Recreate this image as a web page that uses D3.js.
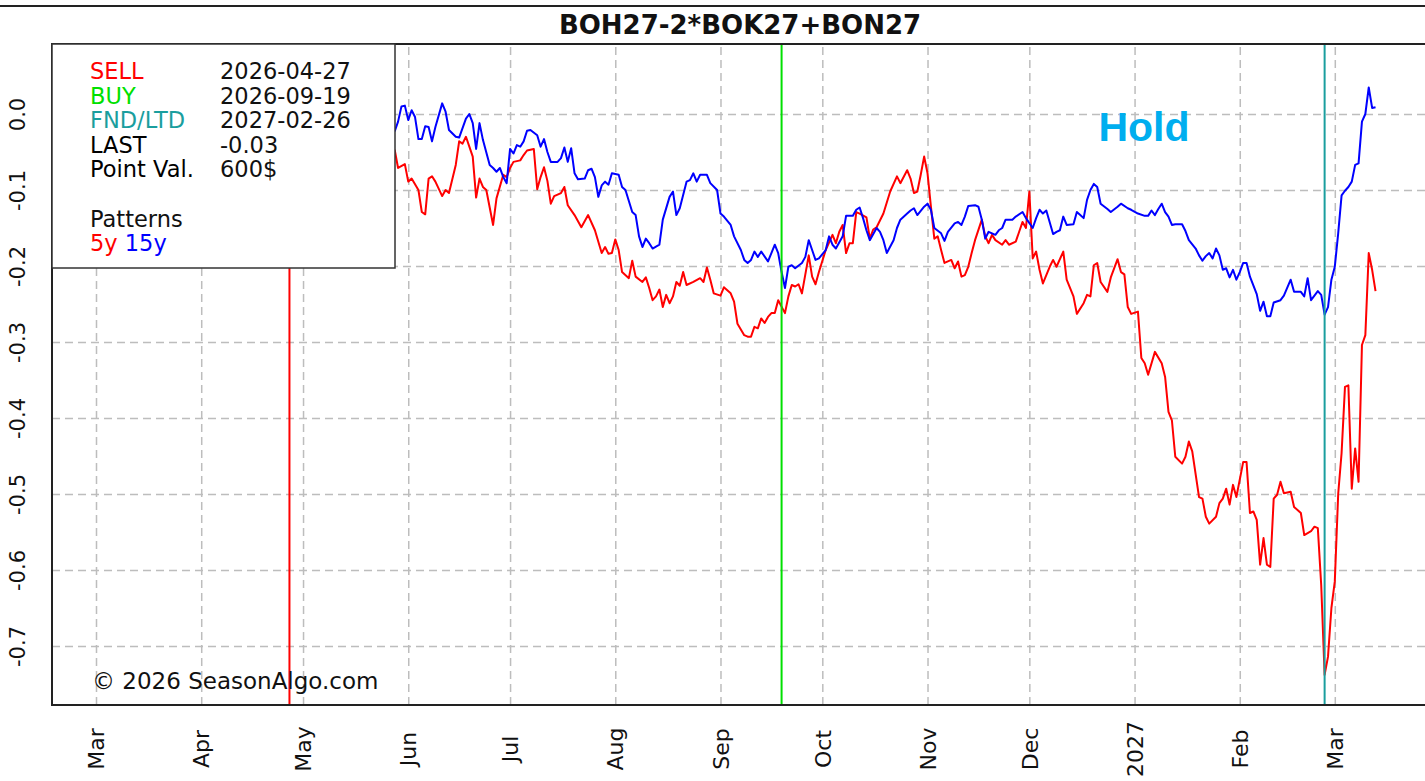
<!DOCTYPE html>
<html>
<head>
<meta charset="utf-8">
<script src="https://cdn.jsdelivr.net/npm/d3@7"></script>
<style>
  body { margin: 0; background: #fff; overflow: hidden; }
  svg { display: block; font-family: "DejaVu Sans", sans-serif; }
</style>
</head>
<body>
<svg id="chart" width="1425" height="781"></svg>
<script>
// ========== Data ==========

const chartTitle = "BOH27-2*BOK27+BON27";

const sellDate = "2026-04-27";
const buyDate = "2026-09-19";
const fndDate = "2027-02-26";

const monthTicks = ["2026-03-01", "2026-04-01", "2026-05-01", "2026-06-01", "2026-07-01", "2026-08-01",
    "2026-09-01", "2026-10-01", "2026-11-01", "2026-12-01", "2027-01-01", "2027-02-01", "2027-03-01"];
const monthLabels = ["Mar", "Apr", "May", "Jun", "Jul", "Aug", "Sep", "Oct", "Nov", "Dec", "2027", "Feb", "Mar"];

const yTicks = [0, -0.1, -0.2, -0.3, -0.4, -0.5, -0.6, -0.7];

const legendRows = [
    ["SELL", "2026-04-27", "#ff0000"],
    ["BUY", "2026-09-19", "#00e000"],
    ["FND/LTD", "2027-02-26", "#1a9e9e"],
    ["LAST", "-0.03", "#000"],
    ["Point Val.", "600$", "#000"]
];

// 15 year pattern (blue)
const pattern15y = [
    ["2026-05-28", -0.023], ["2026-05-29", -0.010], ["2026-05-30", 0.010], ["2026-05-31", 0.011],
    ["2026-06-01", -0.008], ["2026-06-02", 0.005], ["2026-06-03", -0.004], ["2026-06-04", -0.033],
    ["2026-06-05", -0.033], ["2026-06-06", -0.016], ["2026-06-07", -0.017], ["2026-06-08", -0.036],
    ["2026-06-09", -0.017], ["2026-06-11", 0.014], ["2026-06-12", 0.003], ["2026-06-13", -0.021],
    ["2026-06-15", -0.030], ["2026-06-16", -0.031], ["2026-06-18", -0.006], ["2026-06-19", 0.000],
    ["2026-06-20", -0.012], ["2026-06-21", -0.046], ["2026-06-22", -0.012], ["2026-06-23", -0.034],
    ["2026-06-25", -0.067], ["2026-06-26", -0.071], ["2026-06-27", -0.076], ["2026-06-28", -0.071],
    ["2026-06-29", -0.083], ["2026-06-30", -0.091], ["2026-07-01", -0.046], ["2026-07-02", -0.052],
    ["2026-07-03", -0.041], ["2026-07-04", -0.043], ["2026-07-05", -0.036], ["2026-07-06", -0.022],
    ["2026-07-07", -0.021], ["2026-07-09", -0.028], ["2026-07-10", -0.043], ["2026-07-11", -0.033],
    ["2026-07-12", -0.050], ["2026-07-13", -0.063], ["2026-07-15", -0.063], ["2026-07-16", -0.058],
    ["2026-07-17", -0.044], ["2026-07-18", -0.063], ["2026-07-19", -0.045], ["2026-07-20", -0.078],
    ["2026-07-21", -0.086], ["2026-07-23", -0.085], ["2026-07-24", -0.074], ["2026-07-25", -0.072],
    ["2026-07-26", -0.083], ["2026-07-27", -0.109], ["2026-07-28", -0.094], ["2026-07-29", -0.089],
    ["2026-07-30", -0.093], ["2026-07-31", -0.078], ["2026-08-02", -0.080], ["2026-08-03", -0.096],
    ["2026-08-04", -0.100], ["2026-08-06", -0.129], ["2026-08-07", -0.133], ["2026-08-08", -0.161],
    ["2026-08-09", -0.175], ["2026-08-10", -0.164], ["2026-08-11", -0.170], ["2026-08-12", -0.177],
    ["2026-08-14", -0.172], ["2026-08-15", -0.139], ["2026-08-17", -0.109], ["2026-08-18", -0.102],
    ["2026-08-19", -0.133], ["2026-08-20", -0.124], ["2026-08-22", -0.089], ["2026-08-23", -0.087],
    ["2026-08-24", -0.078], ["2026-08-25", -0.089], ["2026-08-26", -0.080], ["2026-08-28", -0.080],
    ["2026-08-29", -0.091], ["2026-08-31", -0.100], ["2026-09-01", -0.131], ["2026-09-02", -0.135],
    ["2026-09-04", -0.146], ["2026-09-05", -0.161], ["2026-09-07", -0.179], ["2026-09-08", -0.192],
    ["2026-09-09", -0.196], ["2026-09-10", -0.192], ["2026-09-11", -0.181], ["2026-09-12", -0.188],
    ["2026-09-13", -0.181], ["2026-09-15", -0.194], ["2026-09-16", -0.183], ["2026-09-17", -0.172],
    ["2026-09-18", -0.183], ["2026-09-19", -0.208], ["2026-09-20", -0.229], ["2026-09-21", -0.201],
    ["2026-09-22", -0.199], ["2026-09-23", -0.203], ["2026-09-25", -0.196], ["2026-09-26", -0.188],
    ["2026-09-27", -0.166], ["2026-09-28", -0.179], ["2026-09-29", -0.192], ["2026-09-30", -0.190],
    ["2026-10-02", -0.179], ["2026-10-03", -0.161], ["2026-10-04", -0.172], ["2026-10-05", -0.177],
    ["2026-10-07", -0.161], ["2026-10-08", -0.134], ["2026-10-10", -0.134], ["2026-10-11", -0.126],
    ["2026-10-12", -0.123], ["2026-10-13", -0.137], ["2026-10-14", -0.153], ["2026-10-15", -0.166],
    ["2026-10-17", -0.150], ["2026-10-18", -0.155], ["2026-10-19", -0.166], ["2026-10-20", -0.183],
    ["2026-10-22", -0.166], ["2026-10-23", -0.150], ["2026-10-24", -0.139], ["2026-10-26", -0.131],
    ["2026-10-27", -0.127], ["2026-10-28", -0.124], ["2026-10-29", -0.133], ["2026-10-31", -0.122],
    ["2026-11-01", -0.118], ["2026-11-02", -0.126], ["2026-11-03", -0.150], ["2026-11-05", -0.157],
    ["2026-11-06", -0.167], ["2026-11-07", -0.155], ["2026-11-09", -0.144], ["2026-11-10", -0.142],
    ["2026-11-11", -0.146], ["2026-11-12", -0.135], ["2026-11-13", -0.121], ["2026-11-15", -0.120],
    ["2026-11-16", -0.122], ["2026-11-17", -0.139], ["2026-11-18", -0.164], ["2026-11-19", -0.155],
    ["2026-11-21", -0.159], ["2026-11-22", -0.153], ["2026-11-23", -0.150], ["2026-11-24", -0.139],
    ["2026-11-26", -0.139], ["2026-11-27", -0.135], ["2026-11-29", -0.129], ["2026-11-30", -0.137],
    ["2026-12-02", -0.150], ["2026-12-03", -0.137], ["2026-12-04", -0.126], ["2026-12-05", -0.131],
    ["2026-12-06", -0.127], ["2026-12-08", -0.158], ["2026-12-09", -0.155], ["2026-12-10", -0.153],
    ["2026-12-11", -0.135], ["2026-12-12", -0.146], ["2026-12-14", -0.145], ["2026-12-15", -0.129],
    ["2026-12-16", -0.133], ["2026-12-17", -0.137], ["2026-12-18", -0.113], ["2026-12-19", -0.100],
    ["2026-12-20", -0.092], ["2026-12-21", -0.096], ["2026-12-22", -0.118], ["2026-12-24", -0.125],
    ["2026-12-25", -0.129], ["2026-12-27", -0.122], ["2026-12-28", -0.118], ["2026-12-30", -0.124],
    ["2026-12-31", -0.126], ["2027-01-02", -0.131], ["2027-01-04", -0.134], ["2027-01-05", -0.134],
    ["2027-01-06", -0.127], ["2027-01-07", -0.133], ["2027-01-08", -0.125], ["2027-01-09", -0.118],
    ["2027-01-10", -0.129], ["2027-01-11", -0.135], ["2027-01-12", -0.146], ["2027-01-13", -0.145],
    ["2027-01-15", -0.145], ["2027-01-16", -0.154], ["2027-01-17", -0.166], ["2027-01-19", -0.177],
    ["2027-01-20", -0.186], ["2027-01-21", -0.193], ["2027-01-22", -0.187], ["2027-01-23", -0.183],
    ["2027-01-24", -0.190], ["2027-01-25", -0.177], ["2027-01-26", -0.186], ["2027-01-27", -0.205],
    ["2027-01-28", -0.203], ["2027-01-29", -0.215], ["2027-01-30", -0.205], ["2027-01-31", -0.218],
    ["2027-02-01", -0.208], ["2027-02-02", -0.196], ["2027-02-03", -0.196], ["2027-02-04", -0.214],
    ["2027-02-06", -0.237], ["2027-02-07", -0.259], ["2027-02-08", -0.247], ["2027-02-09", -0.266],
    ["2027-02-10", -0.266], ["2027-02-11", -0.248], ["2027-02-13", -0.245], ["2027-02-14", -0.239],
    ["2027-02-16", -0.218], ["2027-02-17", -0.234], ["2027-02-19", -0.234], ["2027-02-20", -0.240],
    ["2027-02-21", -0.216], ["2027-02-22", -0.245], ["2027-02-24", -0.233], ["2027-02-25", -0.238],
    ["2027-02-26", -0.264], ["2027-02-27", -0.254], ["2027-02-28", -0.218], ["2027-03-01", -0.201],
    ["2027-03-02", -0.157], ["2027-03-03", -0.107], ["2027-03-04", -0.101], ["2027-03-05", -0.096],
    ["2027-03-06", -0.089], ["2027-03-07", -0.067], ["2027-03-08", -0.065], ["2027-03-09", -0.010],
    ["2027-03-10", 0.000], ["2027-03-11", 0.035], ["2027-03-12", 0.008], ["2027-03-13", 0.009]
];

// 5 year pattern (red)
const pattern5y = [
    ["2026-05-28", -0.047], ["2026-05-29", -0.071], ["2026-05-31", -0.066], ["2026-06-01", -0.089],
    ["2026-06-02", -0.085], ["2026-06-04", -0.100], ["2026-06-05", -0.129], ["2026-06-06", -0.132],
    ["2026-06-07", -0.085], ["2026-06-08", -0.082], ["2026-06-09", -0.089], ["2026-06-11", -0.108],
    ["2026-06-12", -0.100], ["2026-06-13", -0.104], ["2026-06-15", -0.067], ["2026-06-16", -0.036],
    ["2026-06-17", -0.039], ["2026-06-18", -0.030], ["2026-06-19", -0.043], ["2026-06-20", -0.056],
    ["2026-06-21", -0.110], ["2026-06-22", -0.085], ["2026-06-23", -0.096], ["2026-06-24", -0.100],
    ["2026-06-26", -0.146], ["2026-06-27", -0.111], ["2026-06-29", -0.080], ["2026-06-30", -0.083],
    ["2026-07-01", -0.071], ["2026-07-02", -0.063], ["2026-07-04", -0.061], ["2026-07-05", -0.054],
    ["2026-07-06", -0.048], ["2026-07-08", -0.046], ["2026-07-09", -0.099], ["2026-07-10", -0.083],
    ["2026-07-11", -0.070], ["2026-07-12", -0.088], ["2026-07-13", -0.118], ["2026-07-14", -0.108],
    ["2026-07-16", -0.104], ["2026-07-17", -0.096], ["2026-07-18", -0.120], ["2026-07-20", -0.133],
    ["2026-07-22", -0.149], ["2026-07-24", -0.133], ["2026-07-26", -0.153], ["2026-07-28", -0.183],
    ["2026-07-29", -0.175], ["2026-07-30", -0.184], ["2026-07-31", -0.183], ["2026-08-01", -0.165],
    ["2026-08-02", -0.179], ["2026-08-03", -0.208], ["2026-08-05", -0.216], ["2026-08-06", -0.193],
    ["2026-08-07", -0.214], ["2026-08-09", -0.221], ["2026-08-10", -0.215], ["2026-08-11", -0.229],
    ["2026-08-12", -0.245], ["2026-08-13", -0.240], ["2026-08-14", -0.231], ["2026-08-15", -0.254],
    ["2026-08-16", -0.238], ["2026-08-17", -0.249], ["2026-08-18", -0.240], ["2026-08-19", -0.221],
    ["2026-08-20", -0.226], ["2026-08-21", -0.208], ["2026-08-22", -0.225], ["2026-08-24", -0.221],
    ["2026-08-26", -0.216], ["2026-08-27", -0.221], ["2026-08-28", -0.202], ["2026-08-29", -0.218],
    ["2026-08-30", -0.236], ["2026-09-01", -0.239], ["2026-09-02", -0.228], ["2026-09-04", -0.236],
    ["2026-09-05", -0.247], ["2026-09-06", -0.276], ["2026-09-08", -0.291], ["2026-09-09", -0.293],
    ["2026-09-10", -0.293], ["2026-09-11", -0.280], ["2026-09-12", -0.282], ["2026-09-13", -0.269],
    ["2026-09-14", -0.275], ["2026-09-15", -0.267], ["2026-09-16", -0.262], ["2026-09-17", -0.262],
    ["2026-09-18", -0.245], ["2026-09-20", -0.262], ["2026-09-21", -0.240], ["2026-09-22", -0.225],
    ["2026-09-23", -0.227], ["2026-09-24", -0.224], ["2026-09-25", -0.236], ["2026-09-27", -0.186],
    ["2026-09-28", -0.214], ["2026-09-29", -0.224], ["2026-09-30", -0.208], ["2026-10-02", -0.179],
    ["2026-10-04", -0.159], ["2026-10-05", -0.170], ["2026-10-06", -0.155], ["2026-10-07", -0.146],
    ["2026-10-08", -0.183], ["2026-10-09", -0.170], ["2026-10-10", -0.170], ["2026-10-11", -0.129],
    ["2026-10-12", -0.131], ["2026-10-14", -0.136], ["2026-10-15", -0.164], ["2026-10-16", -0.152],
    ["2026-10-17", -0.149], ["2026-10-19", -0.131], ["2026-10-21", -0.102], ["2026-10-23", -0.082],
    ["2026-10-24", -0.091], ["2026-10-26", -0.074], ["2026-10-27", -0.085], ["2026-10-28", -0.104],
    ["2026-10-29", -0.102], ["2026-10-30", -0.080], ["2026-10-31", -0.056], ["2026-11-01", -0.078],
    ["2026-11-02", -0.122], ["2026-11-03", -0.164], ["2026-11-04", -0.161], ["2026-11-05", -0.179],
    ["2026-11-06", -0.196], ["2026-11-08", -0.192], ["2026-11-09", -0.203], ["2026-11-10", -0.194],
    ["2026-11-11", -0.214], ["2026-11-12", -0.212], ["2026-11-13", -0.201], ["2026-11-14", -0.183],
    ["2026-11-15", -0.166], ["2026-11-17", -0.139], ["2026-11-18", -0.161], ["2026-11-19", -0.170],
    ["2026-11-20", -0.159], ["2026-11-21", -0.166], ["2026-11-23", -0.172], ["2026-11-24", -0.166],
    ["2026-11-25", -0.172], ["2026-11-27", -0.168], ["2026-11-28", -0.155], ["2026-11-29", -0.142],
    ["2026-11-30", -0.150], ["2026-12-01", -0.102], ["2026-12-02", -0.190], ["2026-12-03", -0.181],
    ["2026-12-04", -0.205], ["2026-12-05", -0.223], ["2026-12-07", -0.201], ["2026-12-08", -0.192],
    ["2026-12-09", -0.201], ["2026-12-11", -0.181], ["2026-12-12", -0.218], ["2026-12-14", -0.240],
    ["2026-12-15", -0.263], ["2026-12-17", -0.249], ["2026-12-18", -0.238], ["2026-12-19", -0.240],
    ["2026-12-20", -0.199], ["2026-12-21", -0.196], ["2026-12-22", -0.221], ["2026-12-24", -0.234],
    ["2026-12-25", -0.215], ["2026-12-27", -0.191], ["2026-12-28", -0.208], ["2026-12-29", -0.211],
    ["2026-12-30", -0.254], ["2026-12-31", -0.263], ["2027-01-02", -0.260], ["2027-01-03", -0.321],
    ["2027-01-04", -0.328], ["2027-01-05", -0.343], ["2027-01-07", -0.313], ["2027-01-09", -0.328],
    ["2027-01-10", -0.346], ["2027-01-11", -0.392], ["2027-01-12", -0.403], ["2027-01-13", -0.451],
    ["2027-01-15", -0.460], ["2027-01-16", -0.451], ["2027-01-17", -0.431], ["2027-01-18", -0.444],
    ["2027-01-20", -0.504], ["2027-01-21", -0.506], ["2027-01-22", -0.530], ["2027-01-23", -0.539],
    ["2027-01-25", -0.530], ["2027-01-26", -0.512], ["2027-01-27", -0.506], ["2027-01-28", -0.493],
    ["2027-01-29", -0.514], ["2027-01-30", -0.488], ["2027-01-31", -0.504], ["2027-02-02", -0.458],
    ["2027-02-03", -0.458], ["2027-02-04", -0.525], ["2027-02-05", -0.523], ["2027-02-06", -0.534],
    ["2027-02-07", -0.593], ["2027-02-08", -0.558], ["2027-02-09", -0.593], ["2027-02-10", -0.596],
    ["2027-02-11", -0.506], ["2027-02-12", -0.501], ["2027-02-13", -0.484], ["2027-02-14", -0.499],
    ["2027-02-16", -0.497], ["2027-02-17", -0.517], ["2027-02-19", -0.525], ["2027-02-20", -0.554],
    ["2027-02-22", -0.549], ["2027-02-23", -0.543], ["2027-02-24", -0.545], ["2027-02-25", -0.620],
    ["2027-02-26", -0.738], ["2027-02-27", -0.714], ["2027-02-28", -0.650], ["2027-03-01", -0.615],
    ["2027-03-02", -0.500], ["2027-03-03", -0.446], ["2027-03-04", -0.359], ["2027-03-05", -0.357],
    ["2027-03-06", -0.493], ["2027-03-07", -0.440], ["2027-03-08", -0.484], ["2027-03-09", -0.304],
    ["2027-03-10", -0.291], ["2027-03-11", -0.183], ["2027-03-12", -0.205], ["2027-03-13", -0.233]
];

// ========== Setup ==========

const parseDate = d3.utcParse("%Y-%m-%d");
const svg = d3.select("#chart");

const plot = { left: 52, top: 44, right: 1440, bottom: 705 };

const x = d3.scaleUtc()
    .domain([parseDate("2026-03-01"), parseDate("2027-03-01")])
    .range([96, 1334.8]);

const y = d3.scaleLinear()
    .domain([-0.7, 0])
    .range([646, 114]);

// outer frame line at the very top
svg.append("line")
    .attr("x1", 0).attr("x2", 1425)
    .attr("y1", 6).attr("y2", 6)
    .attr("stroke", "#222").attr("stroke-width", 2);

svg.append("text")
    .attr("x", 740).attr("y", 34)
    .attr("text-anchor", "middle")
    .attr("font-size", 26).attr("font-weight", "bold")
    .attr("fill", "#111")
    .text(chartTitle);

// ========== Axes and grid ==========

const xAxis = svg.append("g")
    .attr("transform", `translate(0,${plot.bottom})`)
    .call(d3.axisBottom(x)
        .tickValues(monthTicks.map(parseDate))
        .tickSize(-(plot.bottom - plot.top))
        .tickPadding(0)
        .tickFormat((d, i) => monthLabels[i]));

const yAxis = svg.append("g")
    .attr("transform", `translate(${plot.left},0)`)
    .call(d3.axisLeft(y)
        .tickValues(yTicks)
        .tickSize(-(plot.right - plot.left))
        .tickPadding(0)
        .tickFormat(d => d.toFixed(1)));

[xAxis, yAxis].forEach(ax => {
    ax.select(".domain").remove();
    ax.selectAll(".tick line")
        .attr("stroke", "#bdbdbd")
        .attr("stroke-width", 1.5)
        .attr("stroke-dasharray", "8,5");
    ax.selectAll(".tick text")
        .attr("font-family", "DejaVu Sans")
        .attr("font-size", 21)
        .attr("fill", "#111")
        .attr("text-anchor", "middle")
        .attr("x", 0).attr("y", 0)
        .attr("dy", "0.35em");
});

xAxis.selectAll(".tick text")
    .attr("font-size", 22)
    .attr("transform", "translate(0,44) rotate(-90)");
yAxis.selectAll(".tick text").attr("transform", "translate(-34,0) rotate(-90)");

// ========== Pattern lines ==========

const line = d3.line()
    .x(d => x(parseDate(d[0])))
    .y(d => y(d[1]));

svg.append("path")
    .datum(pattern5y)
    .attr("fill", "none")
    .attr("stroke", "#ff0000")
    .attr("stroke-width", 2)
    .attr("stroke-linejoin", "round")
    .attr("d", line);

svg.append("path")
    .datum(pattern15y)
    .attr("fill", "none")
    .attr("stroke", "#0000ff")
    .attr("stroke-width", 2)
    .attr("stroke-linejoin", "round")
    .attr("d", line);

// signal lines
[[sellDate, "#ff0000"], [buyDate, "#00e000"], [fndDate, "#1a9e9e"]].forEach(([d, c]) => {
    svg.append("line")
        .attr("x1", x(parseDate(d))).attr("x2", x(parseDate(d)))
        .attr("y1", plot.top).attr("y2", plot.bottom)
        .attr("stroke", c).attr("stroke-width", 2);
});

// plot frame
svg.append("path")
    .attr("d", `M${plot.right},${plot.top}H${plot.left}V${plot.bottom}H${plot.right}`)
    .attr("fill", "none")
    .attr("stroke", "#222")
    .attr("stroke-width", 2);

// ========== Legend box ==========

const legend = svg.append("g");

legend.append("rect")
    .attr("x", 52).attr("y", 44)
    .attr("width", 343).attr("height", 224)
    .attr("fill", "#fff")
    .attr("stroke", "#333")
    .attr("stroke-width", 1.5);

const rowH = 24.6;

legend.selectAll(".lab")
    .data(legendRows)
    .join("text")
    .attr("x", 90)
    .attr("y", (d, i) => 79 + i * rowH)
    .attr("font-size", 22.5)
    .attr("fill", d => d[2])
    .text(d => d[0]);

legend.selectAll(".val")
    .data(legendRows)
    .join("text")
    .attr("x", 220)
    .attr("y", (d, i) => 79 + i * rowH)
    .attr("font-size", 22.5)
    .attr("fill", "#111")
    .text(d => d[1]);

legend.append("text")
    .attr("x", 90).attr("y", 79 + 6 * rowH)
    .attr("font-size", 22.5).attr("fill", "#111")
    .text("Patterns");

const pat = legend.append("text")
    .attr("x", 90).attr("y", 79 + 7 * rowH)
    .attr("font-size", 22.5);
pat.append("tspan").attr("fill", "#ff0000").text("5y ");
pat.append("tspan").attr("fill", "#0000ff").text("15y");

// ========== Annotations ==========

svg.append("text")
    .attr("x", 1144).attr("y", 141)
    .attr("text-anchor", "middle")
    .attr("font-family", "Liberation Sans, Arial, sans-serif")
    .attr("font-size", 41).attr("font-weight", "bold")
    .attr("fill", "#00aeef")
    .text("Hold");

svg.append("text")
    .attr("x", 92).attr("y", 689)
    .attr("font-size", 23)
    .attr("fill", "#111")
    .text("© 2026 SeasonAlgo.com");
</script>
</body>
</html>
